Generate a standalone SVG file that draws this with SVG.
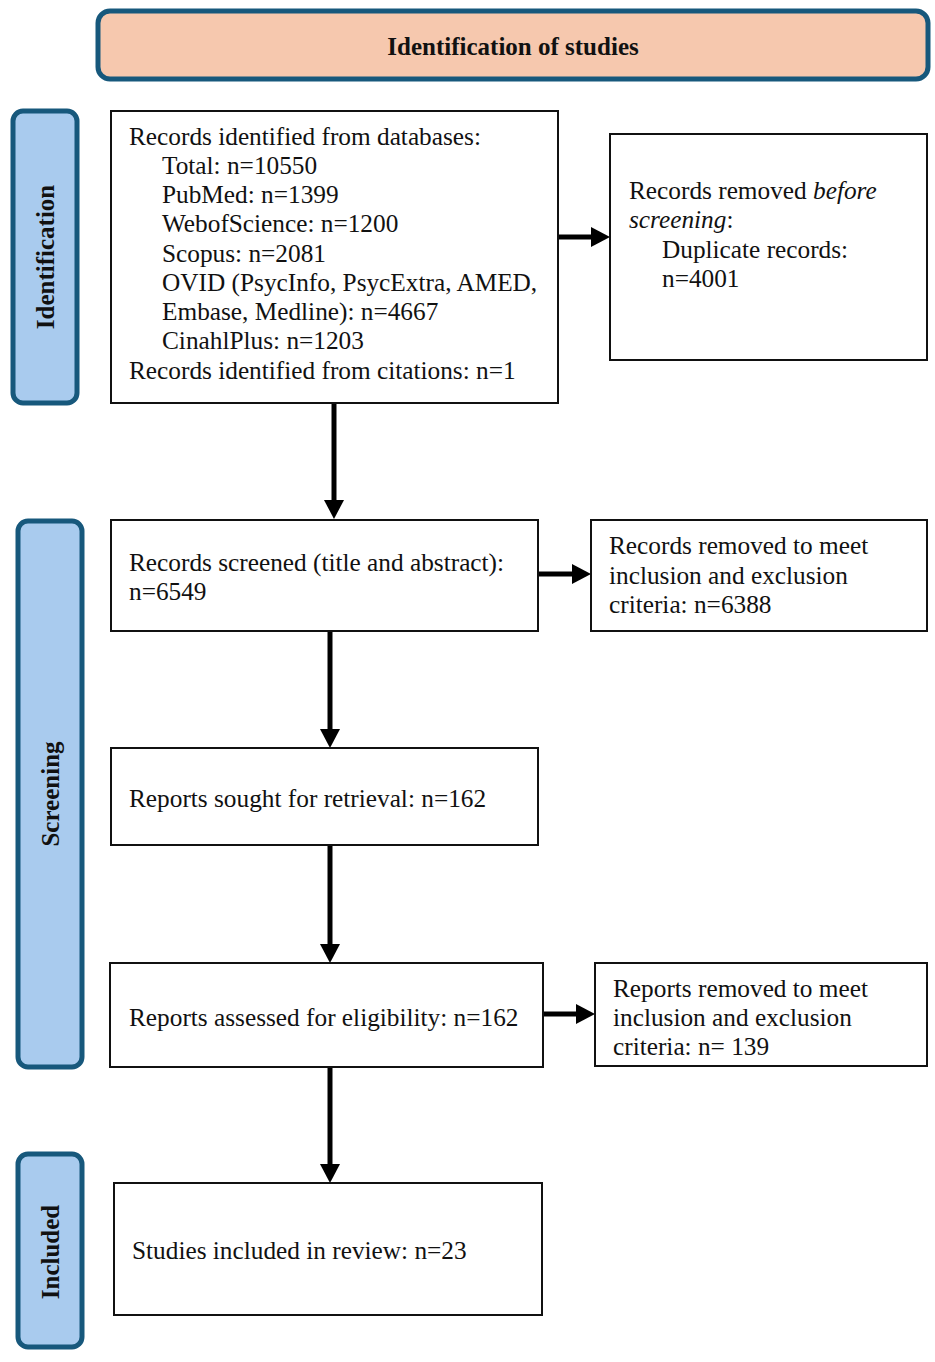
<svg xmlns="http://www.w3.org/2000/svg" width="935" height="1362" viewBox="0 0 935 1362">
<style>
.t{font-family:"Liberation Serif","Times New Roman",serif;font-size:25.3px;fill:#111}
.h{font-family:"Liberation Serif","Times New Roman",serif;font-size:25px;font-weight:bold;fill:#111}
.phase{fill:#a9cbee;stroke:#17587c;stroke-width:5}
.box{fill:#fff;stroke:#111;stroke-width:2}
.c{stroke:#000;stroke-width:5;fill:none}
</style>
<defs>
<marker id="ah" markerUnits="userSpaceOnUse" markerWidth="20" markerHeight="20" refX="0" refY="10" orient="auto">
<path d="M0,0 L19,10 L0,20 Z" fill="#000"/>
</marker>
</defs>
<rect width="935" height="1362" fill="#fff"/>
<g id="header">
<rect x="98" y="11" width="830" height="68" rx="12" fill="#f6c8ae" stroke="#17587c" stroke-width="5"/>
<text class="h" x="513" y="55" text-anchor="middle">Identification of studies</text>
</g>
<g id="phase-identification">
<rect class="phase" x="13" y="111" width="64" height="292" rx="10"/>
<text class="h" transform="translate(54,257) rotate(-90)" text-anchor="middle">Identification</text>
</g>
<g id="phase-screening">
<rect class="phase" x="18" y="521" width="64" height="546" rx="10"/>
<text class="h" transform="translate(59,794) rotate(-90)" text-anchor="middle">Screening</text>
</g>
<g id="phase-included">
<rect class="phase" x="18" y="1154" width="64" height="193" rx="10"/>
<text class="h" transform="translate(59,1252) rotate(-90)" text-anchor="middle">Included</text>
</g>
<g id="connectors">
<path class="c" d="M334,403 V500" marker-end="url(#ah)"/>
<path class="c" d="M558,237 H591" marker-end="url(#ah)"/>
<path class="c" d="M538,574 H572" marker-end="url(#ah)"/>
<path class="c" d="M330,631 V729" marker-end="url(#ah)"/>
<path class="c" d="M330,845 V944" marker-end="url(#ah)"/>
<path class="c" d="M543,1014 H576" marker-end="url(#ah)"/>
<path class="c" d="M330,1067 V1164" marker-end="url(#ah)"/>
</g>
<g id="n-identified">
<rect class="box" x="111" y="111" width="447" height="292"/>
<text class="t" x="129" y="145">Records identified from databases:</text>
<text class="t" x="162" y="174">Total: n=10550</text>
<text class="t" x="162" y="203">PubMed: n=1399</text>
<text class="t" x="162" y="232">WebofScience: n=1200</text>
<text class="t" x="162" y="262">Scopus: n=2081</text>
<text class="t" x="162" y="291">OVID (PsycInfo, PsycExtra, AMED,</text>
<text class="t" x="162" y="320">Embase, Medline): n=4667</text>
<text class="t" x="162" y="349">CinahlPlus: n=1203</text>
<text class="t" x="129" y="379">Records identified from citations: n=1</text>
</g>
<g id="n-duplicates">
<rect class="box" x="610" y="134" width="317" height="226"/>
<text class="t" x="629" y="199">Records removed <tspan font-style="italic">before</tspan></text>
<text class="t" x="629" y="228"><tspan font-style="italic">screening</tspan>:</text>
<text class="t" x="662" y="258">Duplicate records:</text>
<text class="t" x="662" y="287">n=4001</text>
</g>
<g id="n-screened">
<rect class="box" x="111" y="520" width="427" height="111"/>
<text class="t" x="129" y="571">Records screened (title and abstract):</text>
<text class="t" x="129" y="600">n=6549</text>
</g>
<g id="n-removed-screen">
<rect class="box" x="591" y="520" width="336" height="111"/>
<text class="t" x="609" y="554">Records removed to meet</text>
<text class="t" x="609" y="584">inclusion and exclusion</text>
<text class="t" x="609" y="613">criteria: n=6388</text>
</g>
<g id="n-sought">
<rect class="box" x="111" y="748" width="427" height="97"/>
<text class="t" x="129" y="807">Reports sought for retrieval: n=162</text>
</g>
<g id="n-assessed">
<rect class="box" x="110" y="963" width="433" height="104"/>
<text class="t" x="129" y="1026">Reports assessed for eligibility: n=162</text>
</g>
<g id="n-removed-reports">
<rect class="box" x="595" y="963" width="332" height="103"/>
<text class="t" x="613" y="997">Reports removed to meet</text>
<text class="t" x="613" y="1026">inclusion and exclusion</text>
<text class="t" x="613" y="1055">criteria: n= 139</text>
</g>
<g id="n-included">
<rect class="box" x="114" y="1183" width="428" height="132"/>
<text class="t" x="132" y="1259">Studies included in review: n=23</text>
</g>
</svg>
